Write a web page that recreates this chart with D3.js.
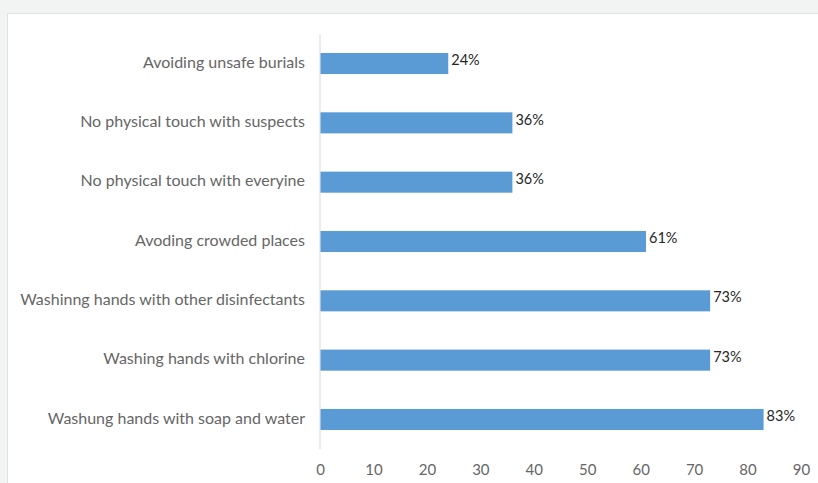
<!DOCTYPE html>
<html><head><meta charset="utf-8">
<script src="https://cdn.jsdelivr.net/npm/d3@7"></script>
<style>
html,body{margin:0;padding:0;background:#f2f4f3;}
svg{display:block;}
</style></head>
<body>
<svg id="chart" width="818" height="483"></svg>
<script>
const categories = [
  "Avoiding unsafe burials",
  "No physical touch with suspects",
  "No physical touch with everyine",
  "Avoding crowded places",
  "Washinng hands with other disinfectants",
  "Washing hands with chlorine",
  "Washung hands with soap and water"
];
const values = [24, 36, 36, 61, 73, 73, 83];
const valueLabels = ["24%", "36%", "36%", "61%", "73%", "73%", "83%"];
const tickValues = [0, 10, 20, 30, 40, 50, 60, 70, 80, 90];

const svg = d3.select("#chart");
const font = "Lato, 'Open Sans', 'Liberation Sans', sans-serif";

// white panel
svg.append("rect").attr("x", 7.5).attr("y", 13.5).attr("width", 820).attr("height", 480)
  .attr("fill", "#ffffff").attr("stroke", "#dfe2e1").attr("stroke-width", 1);

const x = d3.scaleLinear().domain([0, 90]).range([320, 801]);
const y = d3.scaleBand().domain(categories).range([34, 449]).paddingInner(0.645).paddingOuter(0.32);

// vertical axis line
svg.append("line").attr("x1", x(0)).attr("x2", x(0)).attr("y1", 34).attr("y2", 449)
  .attr("stroke", "#d9d9d9").attr("stroke-width", 1);

// bars
svg.selectAll("rect.bar").data(categories).enter().append("rect")
  .attr("class", "bar")
  .attr("x", x(0) + 0.5)
  .attr("y", d => y(d))
  .attr("width", (d, i) => x(values[i]) - x(0) - 0.5)
  .attr("height", y.bandwidth())
  .attr("fill", "#5b9bd5");

// value labels
svg.selectAll("text.val").data(categories).enter().append("text")
  .attr("class", "val")
  .attr("x", (d, i) => x(values[i]) + 3)
  .attr("y", d => y(d) + y.bandwidth() / 2 - 2)
  .attr("dominant-baseline", "middle")
  .attr("font-family", font).attr("font-size", 14.5).attr("fill", "#262626")
  .text((d, i) => valueLabels[i]);

// category labels
svg.selectAll("text.cat").data(categories).enter().append("text")
  .attr("class", "cat")
  .attr("x", 305)
  .attr("y", d => y(d) + y.bandwidth() / 2)
  .attr("dominant-baseline", "middle")
  .attr("text-anchor", "end")
  .attr("font-family", font).attr("font-size", 16).attr("fill", "#666666")
  .text(d => d);

// x axis tick labels
const xAxis = d3.axisBottom(x).tickValues(tickValues).tickSize(0).tickPadding(0);
const gx = svg.append("g").attr("transform", "translate(0,464)").call(xAxis);
gx.select(".domain").remove();
gx.selectAll("text").attr("font-family", font).attr("font-size", 15).attr("fill", "#666666");
</script>
</body></html>
